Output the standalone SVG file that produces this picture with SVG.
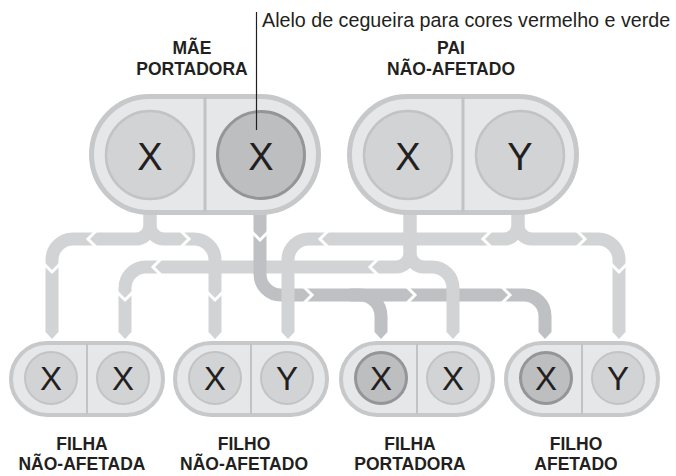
<svg xmlns="http://www.w3.org/2000/svg" width="676" height="476" viewBox="0 0 676 476">
<style>
.bg{fill:#ffffff}
.cap{fill:#e6e7e8;stroke:#c7c8ca}
.div{stroke:#c2c3c5;fill:none}
.cl{fill:#d1d3d4;stroke:#c2c3c5}
.cd{fill:#bcbec0;stroke:#939598}
.pl{fill:none;stroke:#d1d3d4;stroke-width:13}
.pd{fill:none;stroke:#bfc0c3;stroke-width:13}
.tl{fill:#d1d3d4}
.td{fill:#bfc0c3}
.cut{fill:none;stroke:#ffffff;stroke-width:3}
.al{font-family:"Liberation Sans",Arial,sans-serif;fill:#231f20;text-anchor:middle}
.big{font-size:38px}
.small{font-size:33px}
.lab{font-family:"Liberation Sans",Arial,sans-serif;font-weight:bold;fill:#231f20;text-anchor:middle}
.note{font-family:"Liberation Sans",Arial,sans-serif;font-size:19.7px;fill:#231f20}
</style>
<rect class="bg" x="0" y="0" width="676" height="476"/>

<g id="connectors">
  <path class="pl" d="M410,205 V253 A14,14 0 0 1 396,267 H146 A21,21 0 0 0 125,288 V332"/>
  <path class="pd" d="M260,205 V274 A21,21 0 0 0 281,295 H524 A21,21 0 0 1 545,316 V332"/>
  <path class="pd" d="M350,295 H360 A21,21 0 0 1 381,316 V332"/>
  <path class="pl" d="M150,205 V225 A14,14 0 0 1 136,239 H73 A21,21 0 0 0 52,260 V332"/>
  <path class="pl" d="M150,205 V225 A14,14 0 0 0 164,239 H194 A21,21 0 0 1 215,260 V332"/>
  <path class="pl" d="M410,205 V253 A14,14 0 0 0 424,267 H432 A21,21 0 0 1 453,288 V332"/>
  <path class="pl" d="M518,205 V225 A14,14 0 0 1 504,239 H309 A21,21 0 0 0 288,260 V332"/>
  <path class="pl" d="M518,205 V225 A14,14 0 0 0 532,239 H598 A21,21 0 0 1 619,260 V332"/>
  <polygon class="tl" points="45.5,332 58.5,332 52,339"/>
  <polygon class="tl" points="118.5,332 131.5,332 125,339"/>
  <polygon class="tl" points="208.5,332 221.5,332 215,339"/>
  <polygon class="tl" points="281.5,332 294.5,332 288,339"/>
  <polygon class="td" points="374.5,332 387.5,332 381,339"/>
  <polygon class="tl" points="446.5,332 459.5,332 453,339"/>
  <polygon class="td" points="538.5,332 551.5,332 545,339"/>
  <polygon class="tl" points="612.5,332 625.5,332 619,339"/>
  <polyline class="cut" points="96,231 88,239 96,247"/>
  <polyline class="cut" points="44,264 52,272 60,264"/>
  <polyline class="cut" points="181,231 189,239 181,247"/>
  <polyline class="cut" points="207,292 215,300 223,292"/>
  <polyline class="cut" points="378,259 370,267 378,275"/>
  <polyline class="cut" points="161,259 153,267 161,275"/>
  <polyline class="cut" points="117,292 125,300 133,292"/>
  <polyline class="cut" points="491,231 483,239 491,247"/>
  <polyline class="cut" points="328,231 320,239 328,247"/>
  <polyline class="cut" points="577,231 585,239 577,247"/>
  <polyline class="cut" points="611,264 619,272 627,264"/>
  <polyline class="cut" points="252,232 260,240 268,232"/>
  <polyline class="cut" points="304,287 312,295 304,303"/>
  <polyline class="cut" points="407,287 415,295 407,303"/>
  <polyline class="cut" points="502,287 510,295 502,303"/>
</g>

<g id="mother">
  <rect class="cap" x="91.5" y="96.5" width="227" height="116" rx="58" stroke-width="5"/>
  <line class="div" x1="205" y1="97" x2="205" y2="212" stroke-width="3"/>
  <circle class="cl" cx="150" cy="155" r="44" stroke-width="2.5"/>
  <circle class="cd" cx="261" cy="155" r="43.5" stroke-width="3"/>
  <text class="al big" x="150" y="170">X</text>
  <text class="al big" x="261" y="170">X</text>
  <text class="lab" x="192" y="54" font-size="17.5">MÃE</text>
  <text class="lab" x="192" y="75" font-size="17.5">PORTADORA</text>
</g>

<g id="father">
  <rect class="cap" x="349.5" y="96.5" width="227" height="116" rx="58" stroke-width="5"/>
  <line class="div" x1="463" y1="97" x2="463" y2="212" stroke-width="3"/>
  <circle class="cl" cx="408" cy="155" r="44" stroke-width="2.5"/>
  <circle class="cl" cx="520" cy="155" r="44" stroke-width="2.5"/>
  <text class="al big" x="408" y="170">X</text>
  <text class="al big" x="520" y="170">Y</text>
  <text class="lab" x="451" y="54" font-size="17.5">PAI</text>
  <text class="lab" x="451" y="75" font-size="17.5">NÃO-AFETADO</text>
</g>

<g id="annotation">
  <line x1="256.5" y1="12" x2="256.5" y2="130" stroke="#231f20" stroke-width="1.2"/>
  <text class="note" x="262" y="27">Alelo de cegueira para cores vermelho e verde</text>
</g>

<g id="child1">
  <rect class="cap" x="11" y="343" width="152" height="72" rx="36" stroke-width="4"/>
  <line class="div" x1="87" y1="344" x2="87" y2="414" stroke-width="2"/>
  <circle class="cl" cx="51" cy="378" r="26" stroke-width="2"/>
  <circle class="cl" cx="123" cy="378" r="26" stroke-width="2"/>
  <text class="al small" x="51" y="390">X</text>
  <text class="al small" x="123" y="390">X</text>
  <text class="lab" x="82" y="450" font-size="17.5">FILHA</text>
  <text class="lab" x="82" y="470" font-size="17.5">NÃO-AFETADA</text>
</g>

<g id="child2">
  <rect class="cap" x="175" y="343" width="152" height="72" rx="36" stroke-width="4"/>
  <line class="div" x1="251" y1="344" x2="251" y2="414" stroke-width="2"/>
  <circle class="cl" cx="215" cy="378" r="26" stroke-width="2"/>
  <circle class="cl" cx="287" cy="378" r="26" stroke-width="2"/>
  <text class="al small" x="215" y="390">X</text>
  <text class="al small" x="287" y="390">Y</text>
  <text class="lab" x="244" y="450" font-size="17.5">FILHO</text>
  <text class="lab" x="244" y="470" font-size="17.5">NÃO-AFETADO</text>
</g>

<g id="child3">
  <rect class="cap" x="341" y="343" width="152" height="72" rx="36" stroke-width="4"/>
  <line class="div" x1="417" y1="344" x2="417" y2="414" stroke-width="2"/>
  <circle class="cd" cx="381" cy="378" r="25.5" stroke-width="3"/>
  <circle class="cl" cx="453" cy="378" r="26" stroke-width="2"/>
  <text class="al small" x="381" y="390">X</text>
  <text class="al small" x="453" y="390">X</text>
  <text class="lab" x="410" y="450" font-size="17.5">FILHA</text>
  <text class="lab" x="410" y="470" font-size="17.5">PORTADORA</text>
</g>

<g id="child4">
  <rect class="cap" x="506" y="343" width="152" height="72" rx="36" stroke-width="4"/>
  <line class="div" x1="582" y1="344" x2="582" y2="414" stroke-width="2"/>
  <circle class="cd" cx="546" cy="378" r="25.5" stroke-width="3"/>
  <circle class="cl" cx="618" cy="378" r="26" stroke-width="2"/>
  <text class="al small" x="546" y="390">X</text>
  <text class="al small" x="618" y="390">Y</text>
  <text class="lab" x="576" y="450" font-size="17.5">FILHO</text>
  <text class="lab" x="576" y="470" font-size="17.5">AFETADO</text>
</g>
</svg>
